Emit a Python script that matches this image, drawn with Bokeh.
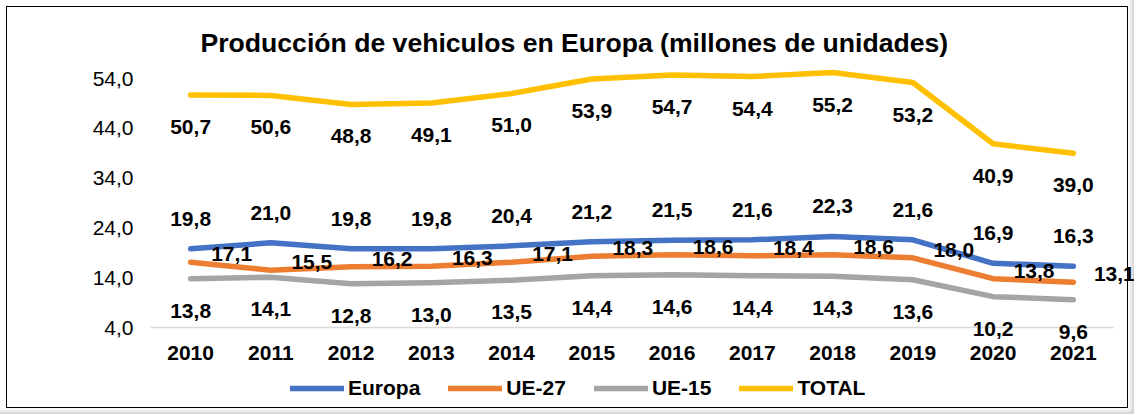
from bokeh.plotting import figure
from bokeh.models import (ColumnDataSource, LabelSet, Legend, LegendItem,
                          Range1d, FixedTicker, CustomJSTickFormatter)
from bokeh.core.properties import value
from bokeh.embed import file_html
from bokeh.resources import INLINE

years = ["2010", "2011", "2012", "2013", "2014", "2015", "2016", "2017", "2018", "2019", "2020", "2021"]
europa = [19.8, 21.0, 19.8, 19.8, 20.4, 21.2, 21.5, 21.6, 22.3, 21.6, 16.9, 16.3]
ue27 = [17.1, 15.5, 16.2, 16.3, 17.1, 18.3, 18.6, 18.4, 18.6, 18.0, 13.8, 13.1]
ue15 = [13.8, 14.1, 12.8, 13.0, 13.5, 14.4, 14.6, 14.4, 14.3, 13.6, 10.2, 9.6]
total = [50.7, 50.6, 48.8, 49.1, 51.0, 53.9, 54.7, 54.4, 55.2, 53.2, 40.9, 39.0]
y_ticks = [4, 14, 24, 34, 44, 54]

FONT = "Liberation Sans"
xs = list(range(len(years)))

W, H = 1134, 414
p = figure(width=W, height=H, x_range=Range1d(-0.5, 11.762), y_range=Range1d(-11.66, 58.02),
           x_axis_location=None, output_backend="svg", toolbar_location=None,
           min_border_left=150, min_border_right=0, min_border_top=58, min_border_bottom=9)
p.styles = {"outline": "1.5px solid #000000", "outline-offset": "-7px",
            "background-color": "#FFFFFF",
            "box-shadow": "inset -5px -5px 5px -3px rgba(0,0,0,0.22)"}
p.border_fill_color = None
p.background_fill_color = None
p.outline_line_color = None
p.xgrid.grid_line_color = None
p.ygrid.grid_line_color = None

p.title.text = "Producción de vehiculos en Europa (millones de unidades)"
p.title.text_font = FONT
p.title.text_font_style = "bold"
p.title.text_font_size = "26.6px"
p.title.align = "left"
p.title.offset = 50
p.title.standoff = 2
p.title.text_color = "#000000"

ya = p.yaxis[0]
ya.ticker = FixedTicker(ticks=y_ticks)
ya.formatter = CustomJSTickFormatter(code="return tick.toFixed(1).replace('.', ',');")
ya.axis_line_color = None
ya.major_tick_line_color = None
ya.minor_tick_line_color = None
ya.major_tick_out = 0
ya.major_tick_in = 0
ya.major_label_standoff = 17
ya.major_label_text_font = FONT
ya.major_label_text_font_size = "21px"
ya.major_label_text_color = "#000000"

# category axis baseline and labels
p.segment(x0=[xs[0] - 0.5], x1=[xs[-1] + 0.5], y0=[y_ticks[0]], y1=[y_ticks[0]],
          line_color="#D9D9D9", line_width=1.5)
ysrc = ColumnDataSource(dict(x=xs, y=[y_ticks[0]] * len(years), t=years))
p.add_layout(LabelSet(x="x", y="y", text="t", source=ysrc, y_offset=-25,
                      text_align="center", text_baseline="middle",
                      text_font=value(FONT), text_font_style="bold",
                      text_font_size="21px", text_color="#000000"))

series = [
    ("Europa", europa, "#4472C4", 0, 30),
    ("UE-27", ue27, "#ED7D31", 41, 8),
    ("UE-15", ue15, "#A5A5A5", 0, -32),
    ("TOTAL", total, "#FFC000", 0, -32),
]

items = []
for name, vals, color, xo, yo in series:
    src = ColumnDataSource(dict(x=xs, y=vals,
                                t=[f"{v:.1f}".replace(".", ",") for v in vals]))
    r = p.line("x", "y", source=src, line_color=color, line_width=5.5,
               line_cap="round", line_join="round")
    items.append(LegendItem(label=name, renderers=[r]))
    p.add_layout(LabelSet(x="x", y="y", text="t", source=src, x_offset=xo, y_offset=yo,
                          text_align="center", text_baseline="middle",
                          text_font=value(FONT), text_font_style="bold",
                          text_font_size="21px", text_color="#000000"))

legend = Legend(items=items, location=(140, 5), orientation="horizontal",
                label_text_font=FONT, label_text_font_style="bold",
                label_text_font_size="21px", label_text_color="#000000",
                glyph_width=54, glyph_height=24, label_height=24, label_standoff=4,
                spacing=28, padding=0, margin=0, border_line_color=None,
                background_fill_alpha=0)
p.add_layout(legend)

open("out.html", "w").write(file_html(p, INLINE))
